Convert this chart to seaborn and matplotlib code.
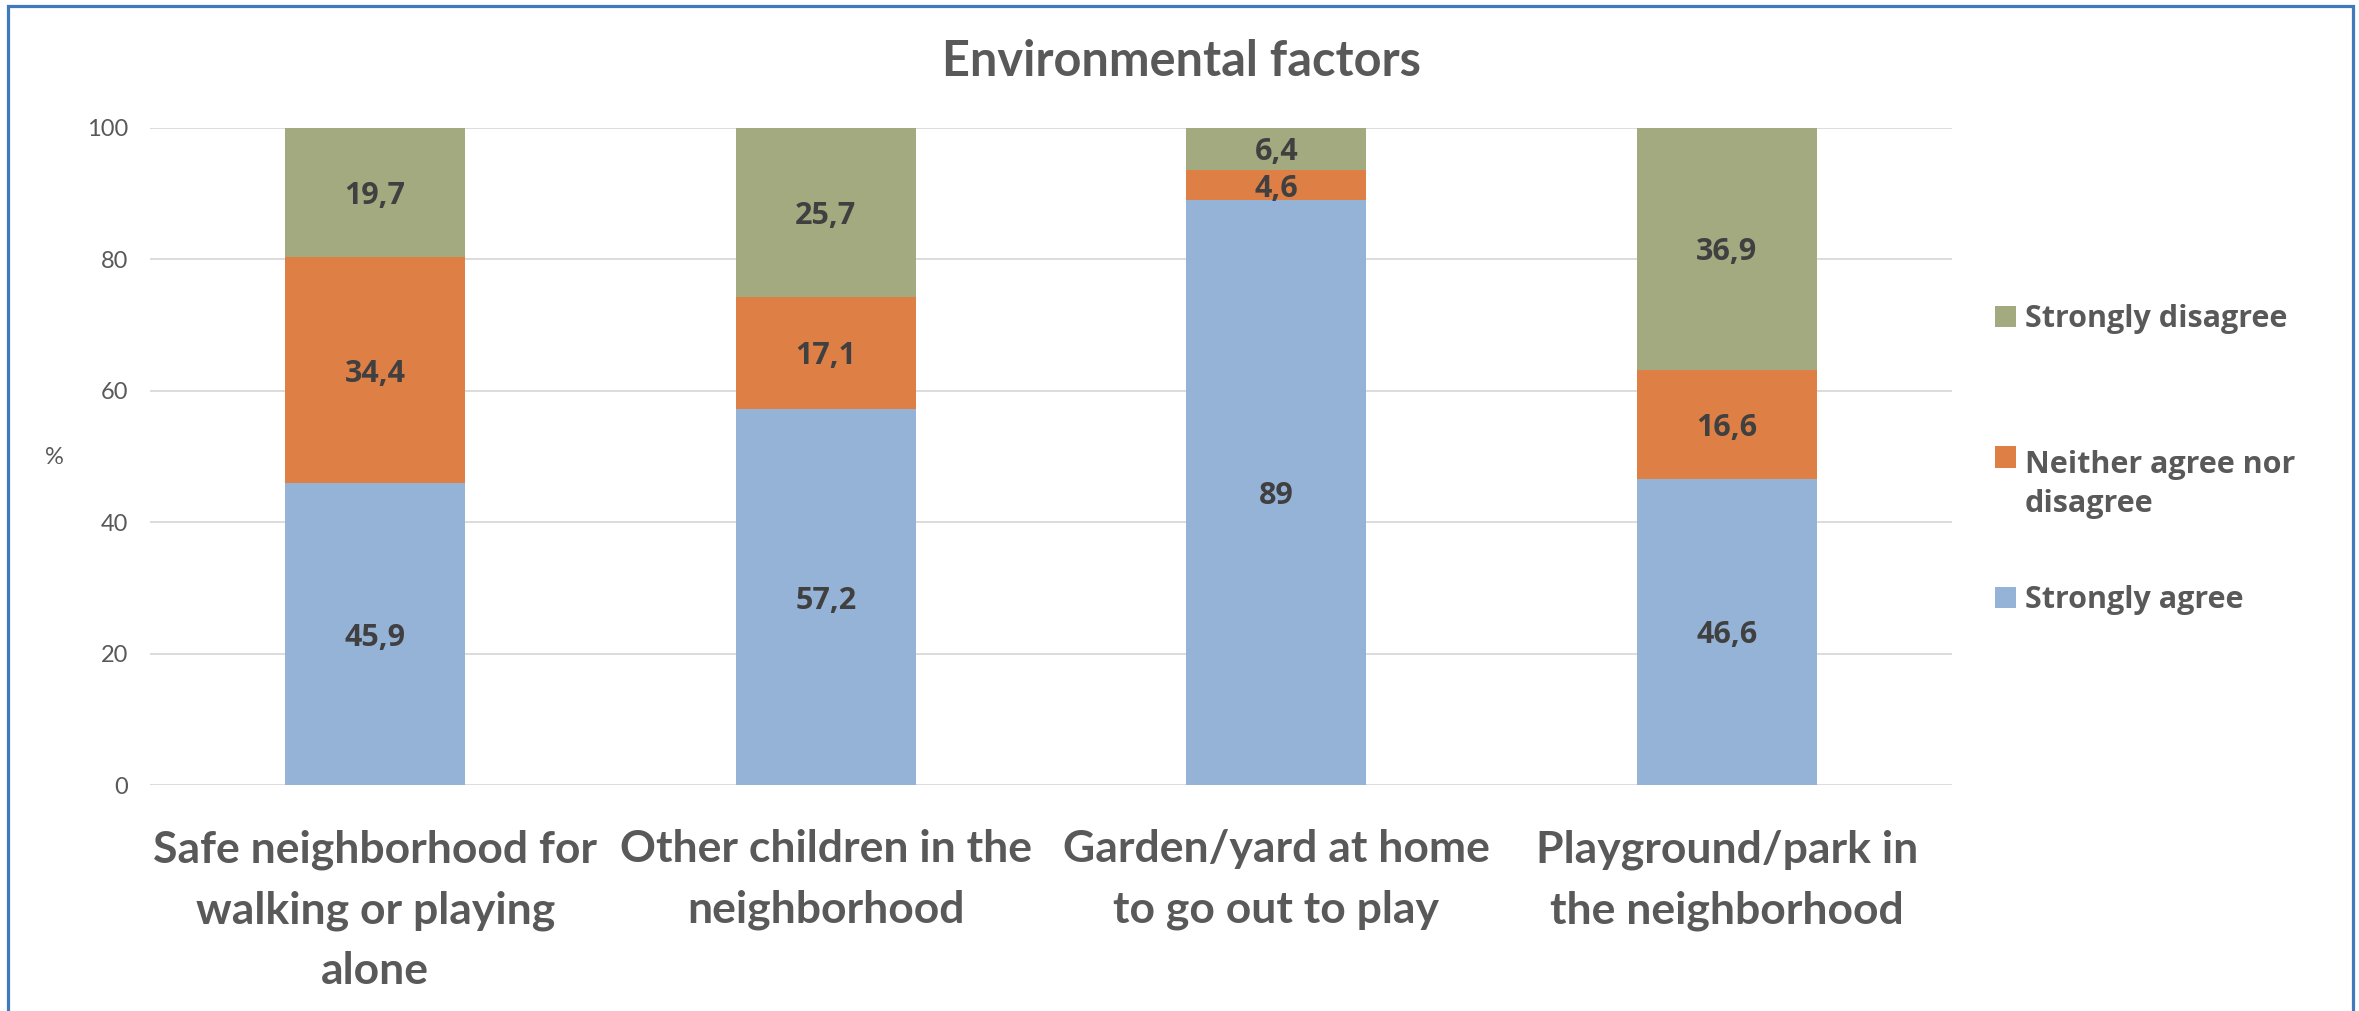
import matplotlib
matplotlib.use("Agg")
import matplotlib.pyplot as plt
from matplotlib.patches import Rectangle
import numpy as np
import pandas as pd
import seaborn as sns

# Survey answers per environmental factor (percent)
categories = [
    "Safe neighborhood for\nwalking or playing\nalone",
    "Other children in the\nneighborhood",
    "Garden/yard at home\nto go out to play",
    "Playground/park in\nthe neighborhood",
]
strongly_agree = [45.9, 57.2, 89.0, 46.6]
neither = [34.4, 17.1, 4.6, 16.6]
strongly_disagree = [19.7, 25.7, 6.4, 36.9]

series_names = ["Strongly agree", "Neither agree nor\ndisagree", "Strongly disagree"]
series_values = [strongly_agree, neither, strongly_disagree]
series_colors = ["#95B3D7", "#DE8046", "#A3AA80"]
value_labels = [["45,9", "57,2", "89", "46,6"],
                ["34,4", "17,1", "4,6", "16,6"],
                ["19,7", "25,7", "6,4", "36,9"]]
y_ticks = [0, 20, 40, 60, 80, 100]

sns.set_theme(style="white")
plt.rcParams["font.family"] = ["Lato", "DejaVu Sans"]

W, H = 2359, 1011
fig = plt.figure(figsize=(W / 100, H / 100), dpi=100)
fig.patch.set_facecolor("white")
ax = fig.add_axes([150 / W, 1 - 785 / H, (1952 - 150) / W, (785 - 128) / H])

text_grey = "#595959"
label_dark = "#404040"
sans_ui = ["Open Sans", "DejaVu Sans"]

bottom = np.zeros(len(categories))
for name, vals, col, labs in zip(series_names, series_values, series_colors, value_labels):
    df = pd.DataFrame({"factor": categories, "value": vals})
    sns.barplot(data=df, x="factor", y="value", color=col, width=0.4,
                bottom=bottom.copy(), saturation=1, linewidth=0, ax=ax,
                zorder=3)
    for i, (v, lab) in enumerate(zip(vals, labs)):
        ax.annotate(lab, (i, bottom[i] + v / 2), xytext=(0, -2.5),
                    textcoords="offset points", ha="center", va="center",
                    fontsize=22, fontweight="bold", color=label_dark,
                    family=sans_ui, zorder=4)
    bottom = bottom + np.array(vals)

ax.set_ylim(0, 100)
ax.set_xlim(-0.5, len(categories) - 0.5)
ax.set_yticks(y_ticks)
ax.set_yticklabels([str(t) for t in y_ticks])
ax.grid(axis="y", color="#D9D9D9", linewidth=1.3, zorder=0)
ax.grid(axis="x", visible=False)
for s in ax.spines.values():
    s.set_visible(False)
ax.tick_params(axis="y", length=0, pad=16, labelsize=17, labelcolor=text_grey)
ax.tick_params(axis="x", length=0, pad=32, labelsize=32, labelcolor=text_grey)
for t in ax.get_xticklabels():
    t.set_fontweight("bold")
    t.set_linespacing(1.62)
ax.set_xlabel("")
ax.set_ylabel("")

# axis unit
fig.text(54 / W, 1 - 457 / H, "%", ha="center", va="center", fontsize=17,
         color=text_grey)

# title
fig.text(1181 / W, 1 - 62 / H, "Environmental factors", ha="center", va="center",
         fontsize=35, fontweight="bold", color=text_grey)

# legend, top entry first: (series index, square centre y, baseline of last text line)
legend_rows = [(2, 316, 327), (1, 457, 512), (0, 597, 608)]
for idx, yc, base in legend_rows:
    fig.patches.append(Rectangle((1995 / W, 1 - (yc + 10.5) / H), 21 / W, 21 / H,
                                 transform=fig.transFigure, facecolor=series_colors[idx],
                                 edgecolor="none"))
    fig.text(2025 / W, 1 - base / H, series_names[idx], ha="left", va="baseline",
             fontsize=22, fontweight="bold", color=text_grey, linespacing=1.4,
             family=sans_ui)

# chart frame
fig.patches.append(Rectangle((8 / W, -0.05), (2353 - 8) / W, 1.05 - 5.5 / H,
                             transform=fig.transFigure, facecolor="none",
                             edgecolor="#4179BF", linewidth=2.3))

fig.savefig("out.png", dpi=100)
